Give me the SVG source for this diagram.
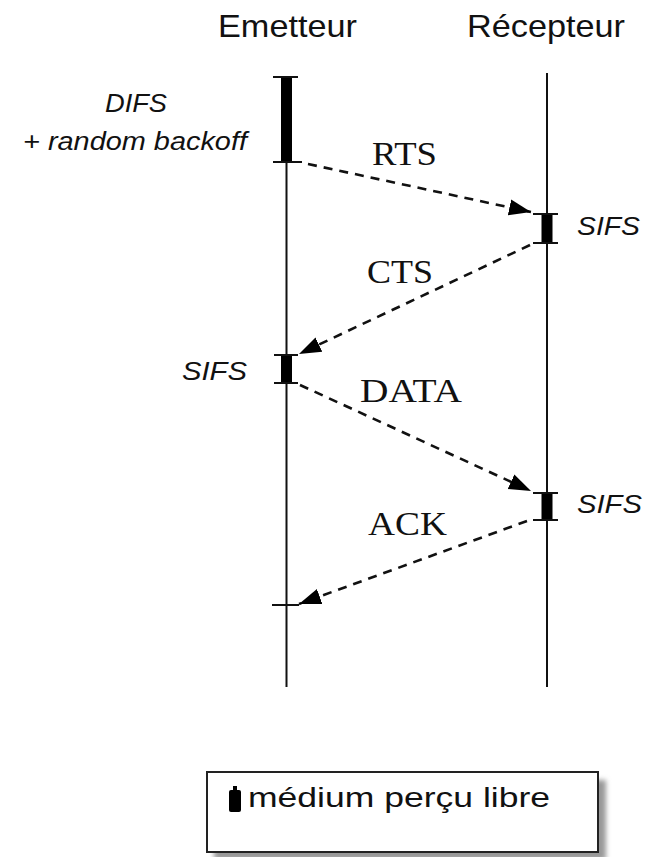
<svg xmlns="http://www.w3.org/2000/svg" width="651" height="857" viewBox="0 0 651 857">
<style>
.life{stroke:#111;stroke-width:2;fill:none}
.bar{fill:#000}
.tick{stroke:#111;stroke-width:2}
.msg{stroke:#111;stroke-width:2.6;stroke-dasharray:9 7;fill:none}
.title{font-family:"Liberation Sans",Arial,sans-serif;font-size:32px;fill:#111}
.ital{font-family:"Liberation Sans",Arial,sans-serif;font-size:25px;font-style:italic;fill:#111}
.lbl{font-family:"Liberation Serif","Times New Roman",serif;font-size:34px;fill:#111}
.leg{font-family:"Liberation Sans",Arial,sans-serif;font-size:27px;fill:#111}
</style>
<defs>
<marker id="ah" markerUnits="userSpaceOnUse" markerWidth="26" markerHeight="20" refX="22" refY="9" orient="auto">
<path d="M0,1 L22,9 L0,17 Z" fill="#000"/>
</marker>
<filter id="sh" x="-10%" y="-10%" width="130%" height="130%">
<feGaussianBlur stdDeviation="2.5"/>
</filter>
</defs>
<rect width="651" height="857" fill="#fff"/>

<g id="emetteur">
<text class="title" x="218" y="37" textLength="139" lengthAdjust="spacingAndGlyphs">Emetteur</text>
<line class="life" x1="286.5" y1="77" x2="286.5" y2="687"/>
</g>
<g id="recepteur">
<text class="title" x="467" y="37" textLength="158" lengthAdjust="spacingAndGlyphs">Récepteur</text>
<line class="life" x1="547" y1="73" x2="547" y2="687"/>
</g>

<g id="difs">
<rect class="bar" x="281" y="77" width="11" height="85"/>
<line class="tick" x1="273" y1="77" x2="298" y2="77"/>
<line class="tick" x1="273" y1="162" x2="302" y2="162"/>
<text class="ital" x="105" y="112" textLength="62" lengthAdjust="spacingAndGlyphs">DIFS</text>
<text class="ital" x="23" y="150" textLength="224" lengthAdjust="spacingAndGlyphs">+ random backoff</text>
</g>

<g id="sifs1">
<rect class="bar" x="541.5" y="214" width="11" height="29"/>
<line class="tick" x1="533" y1="214" x2="558" y2="214"/>
<line class="tick" x1="533" y1="243" x2="558" y2="243"/>
<text class="ital" x="577" y="235" textLength="63" lengthAdjust="spacingAndGlyphs">SIFS</text>
</g>

<g id="sifs2">
<rect class="bar" x="281" y="355" width="11" height="28"/>
<line class="tick" x1="274" y1="355" x2="298" y2="355"/>
<line class="tick" x1="274" y1="383" x2="298" y2="383"/>
<text class="ital" x="182" y="380" textLength="65" lengthAdjust="spacingAndGlyphs">SIFS</text>
</g>

<g id="sifs3">
<rect class="bar" x="541.5" y="493" width="11" height="27"/>
<line class="tick" x1="533" y1="493" x2="558" y2="493"/>
<line class="tick" x1="533" y1="520" x2="558" y2="520"/>
<text class="ital" x="577" y="513" textLength="65" lengthAdjust="spacingAndGlyphs">SIFS</text>
</g>

<g id="ackend">
<line class="tick" x1="272" y1="605" x2="299" y2="605"/>
</g>

<g id="connectors">
<line class="msg" x1="308" y1="164" x2="531" y2="212" marker-end="url(#ah)"/>
<line class="msg" x1="530" y1="245" x2="299" y2="354" marker-end="url(#ah)"/>
<line class="msg" x1="300" y1="385" x2="531" y2="491" marker-end="url(#ah)"/>
<line class="msg" x1="527" y1="521" x2="299" y2="604" marker-end="url(#ah)"/>
<text class="lbl" x="372" y="165" textLength="65" lengthAdjust="spacingAndGlyphs">RTS</text>
<text class="lbl" x="367" y="283" textLength="66" lengthAdjust="spacingAndGlyphs">CTS</text>
<text class="lbl" x="360" y="402" textLength="102" lengthAdjust="spacingAndGlyphs">DATA</text>
<text class="lbl" x="368" y="535" textLength="79" lengthAdjust="spacingAndGlyphs">ACK</text>
</g>

<g id="legend">
<rect x="214" y="780" width="392" height="80" fill="#999" filter="url(#sh)"/>
<rect x="207" y="772" width="391" height="80" fill="#fff" stroke="#222" stroke-width="2"/>
<rect x="229" y="790" width="12" height="22" rx="2" fill="#000"/>
<rect x="233" y="786" width="4" height="6" fill="#000"/>
<text class="leg" x="248" y="807" textLength="302" lengthAdjust="spacingAndGlyphs">médium perçu libre</text>
</g>
</svg>
